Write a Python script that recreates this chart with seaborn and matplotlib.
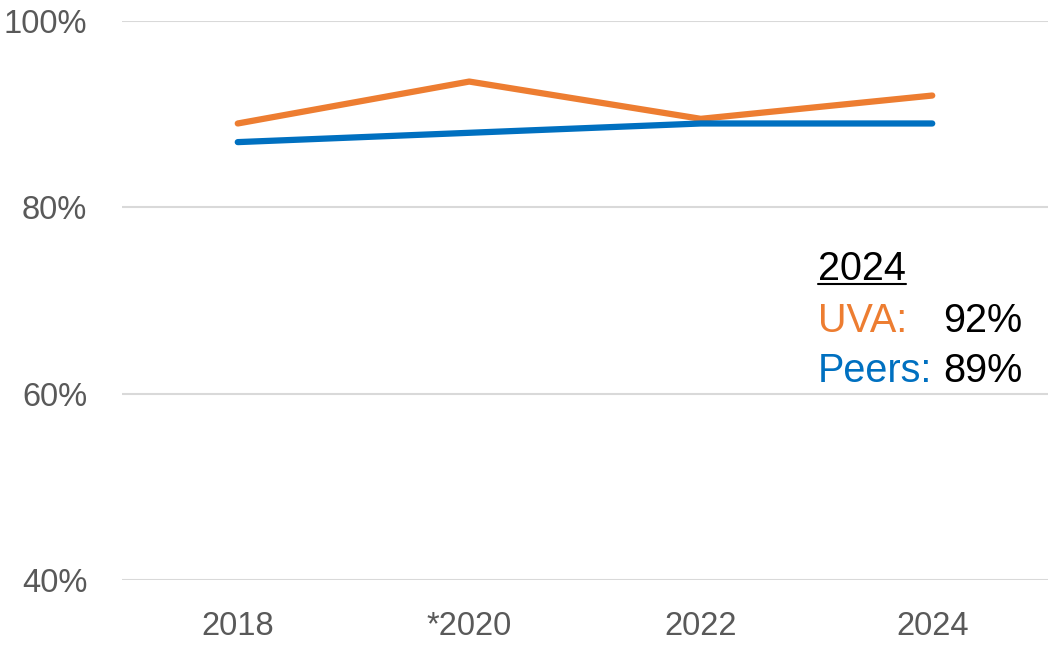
import pandas as pd
import matplotlib
matplotlib.use("Agg")
import matplotlib.pyplot as plt
from matplotlib.lines import Line2D
import seaborn as sns

# --- data ---
years = ["2018", "*2020", "2022", "2024"]
uva = [89, 93.5, 89.5, 92]
peers = [87, 88, 89, 89]

df = pd.DataFrame({
    "year": years * 2,
    "value": uva + peers,
    "group": ["UVA"] * len(years) + ["Peers"] * len(years),
})

# --- style ---
sns.set_style("white")
plt.rcParams['font.family'] = ['Liberation Sans', 'DejaVu Sans']

orange = "#ED7D31"
blue = "#0070C0"
grey = "#595959"
fs_tick = 23.5
fs_note = 28.5

fig = plt.figure(figsize=(10.48, 6.45), dpi=100)
ax = fig.add_axes([122 / 1048, 65 / 645, 926 / 1048, 559 / 645])

sns.lineplot(data=df, x="year", y="value", hue="group",
             palette={"UVA": orange, "Peers": blue},
             linewidth=4.5, ax=ax, legend=False, sort=False)

ax.set_xlim(-0.5, 3.5)
ax.set_ylim(40, 100)
ax.set_yticks([40, 60, 80, 100])
ax.set_yticklabels([f"{v}%" for v in [40, 60, 80, 100]])
ax.yaxis.grid(True, color="#D9D9D9", linewidth=1.5)
ax.set_axisbelow(True)
ax.tick_params(axis="both", length=0, labelsize=fs_tick, colors=grey)
ax.tick_params(axis="y", pad=25)
ax.tick_params(axis="x", pad=22)
ax.set_xlabel("")
ax.set_ylabel("")
sns.despine(left=True, bottom=True)

# --- annotation box ---
head = ax.text(0.7516, 0.537, "2024", transform=ax.transAxes,
               fontsize=fs_note, color="black", va="baseline")
ax.text(0.7516, 0.444, "UVA:", transform=ax.transAxes,
        fontsize=fs_note, color=orange, va="baseline")
ax.text(0.8866, 0.444, f"{uva[-1]:.0f}%", transform=ax.transAxes,
        fontsize=fs_note, color="black", va="baseline")
ax.text(0.7516, 0.354, "Peers:", transform=ax.transAxes,
        fontsize=fs_note, color=blue, va="baseline")
ax.text(0.8866, 0.354, f"{peers[-1]:.0f}%", transform=ax.transAxes,
        fontsize=fs_note, color="black", va="baseline")

# underline under the "2024" heading
fig.canvas.draw()
bb = head.get_window_extent().transformed(fig.transFigure.inverted())
y_line = 0.537 * (559 / 645) + 65 / 645 - 4 / 645
fig.add_artist(Line2D([bb.x0, bb.x1], [y_line, y_line],
                      transform=fig.transFigure, color="black", linewidth=1.5))

fig.savefig("out.png", dpi=100)
